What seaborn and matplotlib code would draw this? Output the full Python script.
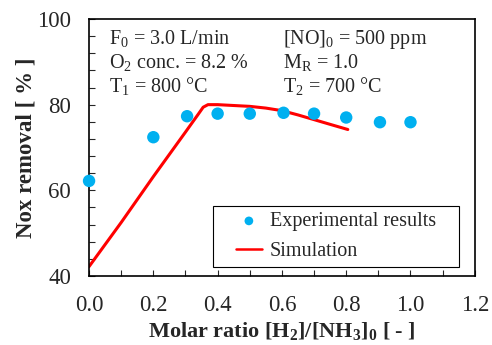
import numpy as np
import pandas as pd
import matplotlib.pyplot as plt
import seaborn as sns
from matplotlib.ticker import MultipleLocator
from matplotlib.patches import Rectangle

sns.set_style('ticks')
plt.rcParams['font.family'] = ['Liberation Serif', 'DejaVu Serif']
plt.rcParams['mathtext.fontset'] = 'custom'
plt.rcParams['mathtext.rm'] = 'Liberation Serif'
plt.rcParams['mathtext.bf'] = 'Liberation Serif:bold'

# experimental data
exp_ratio = [0.0, 0.2, 0.305, 0.4, 0.5, 0.605, 0.7, 0.8, 0.905, 1.0]
exp_removal = [62.2, 72.4, 77.3, 77.9, 77.9, 78.1, 77.9, 77.0, 75.9, 75.9]

# simulation curve
sim_ratio = [0.0, 0.1, 0.2, 0.3, 0.34, 0.355, 0.37, 0.4, 0.5, 0.55, 0.6, 0.65, 0.7, 0.75, 0.805]
sim_removal = [42.2, 52.5, 63.2, 73.6, 77.8, 79.4, 80.0, 80.0, 79.6, 79.2, 78.6, 77.6, 76.5, 75.4, 74.2]

exp = pd.DataFrame({'ratio': exp_ratio, 'removal': exp_removal})
sim = pd.DataFrame({'ratio': sim_ratio, 'removal': sim_removal})

fig = plt.figure(figsize=(4.92, 3.45), dpi=100)
ax = fig.add_axes([0.181, 0.2, 0.784, 0.745])

sns.scatterplot(data=exp, x='ratio', y='removal', ax=ax, color='#00B0F0',
                s=80, edgecolor='none', label='Experimental results',
                zorder=3, clip_on=False)
sns.lineplot(data=sim, x='ratio', y='removal', ax=ax, color='#FF0000',
             linewidth=2.2, sort=False, label='Simulation', zorder=2)

ax.set_xlim(0, 1.2)
ax.set_ylim(40, 100)
ax.xaxis.set_major_locator(MultipleLocator(0.2))
ax.xaxis.set_minor_locator(MultipleLocator(0.1))
ax.yaxis.set_major_locator(MultipleLocator(20))
ax.yaxis.set_minor_locator(MultipleLocator(4))
ax.xaxis.set_major_formatter(plt.FuncFormatter(lambda v, p: f'{v:.1f}'))
ax.tick_params(which='both', direction='in', top=False, right=False,
               length=4, width=0.8, labelsize=16.5)
ax.tick_params(axis='x', which='both', pad=14)
ax.tick_params(axis='y', which='both', pad=13)
for s in ax.spines.values():
    s.set_linewidth(1.2)
    s.set_color('black')

ax.set_xlabel(r'Molar ratio [H$_\mathbf{2}$]/[NH$_\mathbf{3}$]$_\mathbf{0}$ [ - ]',
              fontsize=16, fontweight='bold', labelpad=3)
ax.set_ylabel('Nox removal [ % ]', fontsize=16.5, fontweight='bold', labelpad=0)

left = ['F$_0$ = 3.0 L/min', 'O$_2$ conc. = 8.2 %', 'T$_1$ = 800 °C']
right = ['[NO]$_0$ = 500 ppm', r'M$_\mathrm{R}$ = 1.0', 'T$_2$ = 700 °C']
for i, (a, b) in enumerate(zip(left, right)):
    ax.text(0.062, 95.2 - i * 5.5, a, fontsize=14.5, va='center')
    ax.text(0.603, 95.2 - i * 5.5, b, fontsize=14.5, va='center')

leg = ax.legend(loc='lower right', fontsize=14.5, frameon=False,
                borderpad=0.28, markerscale=0.7,
                handlelength=1.3, handletextpad=0.4, labelspacing=0.55,
                borderaxespad=0, bbox_to_anchor=(0.9145, 0.035))
leg.get_lines()[0].set_linewidth(1.8)
leg.set_zorder(6)

# legend frame: wider side padding than the vertical one
fig.canvas.draw()
bb = leg.get_window_extent()
W, H = fig.get_size_inches() * fig.dpi
padx = 17
frame = Rectangle(((bb.x0 - padx) / W, bb.y0 / H), (bb.width + 2 * padx) / W, bb.height / H,
                  transform=fig.transFigure, facecolor='white', edgecolor='black',
                  linewidth=0.8, zorder=5, clip_on=False)
ax.add_patch(frame)
ax.set_xlim(0, 1.2)
ax.set_ylim(40, 100)

fig.savefig('out.png', dpi=100)
